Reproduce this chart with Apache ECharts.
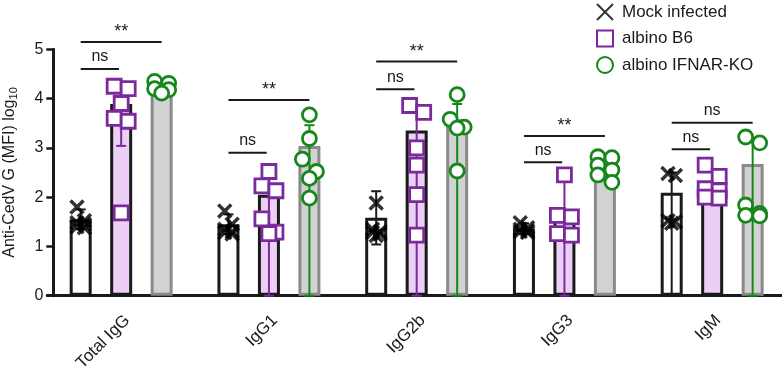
<!DOCTYPE html>
<html>
<head>
<meta charset="utf-8">
<script src="https://cdn.jsdelivr.net/npm/echarts@6/dist/echarts.min.js"></script>
<style>
  html, body { margin: 0; padding: 0; background: #fff; }
  #chart { width: 782px; height: 368px; }
</style>
</head>
<body>
<div id="chart"></div>
<script>
// categories and groups
const categories = ['Total IgG', 'IgG1', 'IgG2b', 'IgG3', 'IgM'];
const groupNames = ['Mock infected', 'albino B6', 'albino IFNAR-KO'];

// bar heights (log10 MFI)
const mockBar = [1.55, 1.45, 1.58, 1.36, 2.09];
const b6Bar = [3.89, 2.05, 3.35, 1.76, 2.25];
const ifnarBar = [4.15, 3.04, 3.58, 2.62, 2.67];

// error bars [low, high]
const mockErr = [[1.35, 1.75], [1.25, 1.65], [1.04, 2.12], [1.25, 1.47], [0, 2.5]];
const b6Err = [[3.04, 4.3], [0, 2.5], [0, 3.85], [0, 2.45], [1.98, 2.55]];
const ifnarErr = [[4.05, 4.3], [0, 3.46], [0, 3.89], [2.42, 2.82], [0, 3.2]];

// individual animals
const mockPts = [
  [1.80, 1.52, 1.45, 1.40, 1.48, 1.38],
  [1.72, 1.45, 1.30, 1.25, 1.35, 1.28],
  [1.88, 1.35, 1.30, 1.25, 1.22, 1.28],
  [1.48, 1.38, 1.32, 1.30, 1.35, 1.28],
  [2.48, 2.44, 1.50, 1.47, 1.52]
];
const b6Pts = [
  [4.25, 4.20, 3.90, 3.60, 3.54, 1.68],
  [2.52, 2.23, 2.13, 1.56, 1.29, 1.26],
  [3.86, 3.72, 3.00, 2.65, 2.05, 1.23],
  [2.45, 1.63, 1.60, 1.26, 1.23],
  [2.65, 2.42, 2.17, 2.13, 2.00, 1.98]
];
const ifnarPts = [
  [4.35, 4.31, 4.20, 4.18, 4.11],
  [3.67, 3.19, 2.77, 2.52, 2.38, 1.98],
  [4.08, 3.58, 3.42, 3.40, 2.53],
  [2.82, 2.80, 2.65, 2.55, 2.45, 2.30],
  [3.22, 3.10, 1.84, 1.67, 1.63, 1.62]
];

// significance brackets: category, compared group (1 = B6, 2 = IFNAR-KO), height, label
const brkCat = [0, 0, 1, 1, 2, 2, 3, 3, 4, 4];
const brkTo = [1, 2, 1, 2, 1, 2, 1, 2, 1, 2];
const brkY = [4.6, 5.15, 2.9, 3.97, 4.19, 4.75, 2.71, 3.24, 2.97, 3.51];
const brkText = ['ns', '**', 'ns', '**', 'ns', '**', 'ns', '**', 'ns', 'ns'];

const font = "'Liberation Sans', Arial, sans-serif";
const ink = '#1a1a1a';
const purple = '#7a2a9c';
const green = '#17871c';
const groupOff = [-0.274, 0, 0.274];
const errColor = [ink, purple, green];

// simple dodge so that overlapping points sit side by side
function spread(vals, cat, g, w) {
  const out = [];
  const order = vals.map((v, i) => i).sort((a, b) => vals[b] - vals[a]);
  let cluster = [];
  const flush = () => {
    const n = cluster.length;
    cluster.forEach((idx, k) => {
      let o = 0;
      if (n >= 2 && !(n % 2 === 1 && k === n - 1)) o = (k % 2 === 0 ? -0.5 : 0.5) * w;
      out.push([cat + groupOff[g] + o, vals[idx]]);
    });
    cluster = [];
  };
  order.forEach(idx => {
    if (cluster.length && vals[cluster[cluster.length - 1]] - vals[idx] > 0.28) flush();
    cluster.push(idx);
  });
  flush();
  return out;
}

function points(pts, g, w) {
  const out = [];
  pts.forEach((vals, c) => out.push(...spread(vals, c, g, w)));
  return out;
}

function errData(err, g) {
  return err.map((e, c) => [c + groupOff[g], e[0], e[1]]);
}

const chart = echarts.init(document.getElementById('chart'));

const errSeries = (err, g) => ({
  name: 'err' + g,
  type: 'custom',
  xAxisIndex: 1,
  z: 3,
  clip: false,
  encode: { x: 0, y: [1, 2] },
  data: errData(err, g),
  renderItem: (params, api) => {
    const x = api.value(0);
    const p1 = api.coord([x, api.value(1)]);
    const p2 = api.coord([x, api.value(2)]);
    const c = 5;
    const st = { stroke: errColor[g], lineWidth: 2 };
    return {
      type: 'group',
      children: [
        { type: 'line', shape: { x1: p1[0], y1: p1[1], x2: p2[0], y2: p2[1] }, style: st },
        { type: 'line', shape: { x1: p1[0] - c, y1: p1[1], x2: p1[0] + c, y2: p1[1] }, style: st },
        { type: 'line', shape: { x1: p2[0] - c, y1: p2[1], x2: p2[0] + c, y2: p2[1] }, style: st }
      ]
    };
  }
});

const option = {
  animation: false,
  backgroundColor: '#fff',
  textStyle: { fontFamily: font, color: ink },
  // grid 0 holds the data, grid 1 only carries the visible y axis
  grid: [
    { left: 47.3, top: 49.3, width: 738.75, height: 246.4, outerBoundsMode: 'none', containLabel: false },
    { left: 53.3, top: 49.3, width: 700, height: 246.4, outerBoundsMode: 'none', containLabel: false }
  ],
  legend: {
    data: groupNames,
    orient: 'vertical',
    left: 591,
    top: -2,
    itemWidth: 16,
    itemHeight: 16,
    itemGap: 8.5,
    textStyle: { fontSize: 17, color: ink, fontFamily: font, padding: [0, 0, 0, 4] }
  },
  xAxis: [
    {
      type: 'category',
      gridIndex: 0,
      data: categories,
      axisLine: { onZero: false, lineStyle: { color: ink, width: 3 } },
      axisTick: { alignWithLabel: true, length: 8, lineStyle: { color: ink, width: 2.5 } },
      axisLabel: { rotate: 45, fontSize: 17, color: ink, margin: 16, verticalAlign: 'top', fontFamily: font },
      splitLine: { show: false }
    },
    { type: 'value', gridIndex: 0, min: -0.5, max: 4.5, show: false },
    { type: 'value', gridIndex: 1, min: 0, max: 1, show: false }
  ],
  yAxis: [
    { type: 'value', gridIndex: 0, min: 0, max: 5, show: false },
    {
      type: 'value',
      gridIndex: 1,
      min: 0,
      max: 5,
      interval: 1,
      name: '{a|Anti-CedV G (MFI) log}{s|10}',
      nameLocation: 'middle',
      nameGap: 34,
      nameTextStyle: {
        rich: {
          a: { fontSize: 16, color: ink, fontFamily: font, lineHeight: 20 },
          s: { fontSize: 11, color: ink, fontFamily: font, lineHeight: 12, verticalAlign: 'bottom' }
        }
      },
      axisLine: { show: true, onZero: false, lineStyle: { color: ink, width: 3 } },
      axisTick: { show: true, length: 7, lineStyle: { color: ink, width: 2.5 } },
      axisLabel: { fontSize: 16, color: ink, margin: 10, fontFamily: font },
      splitLine: { show: false }
    }
  ],
  series: [
    {
      name: 'mockBar', type: 'bar', data: mockBar, barWidth: 22, barGap: '84%', z: 2,
      itemStyle: { color: '#fff', borderColor: ink, borderWidth: 3 }
    },
    {
      name: 'b6Bar', type: 'bar', data: b6Bar, barWidth: 22, barGap: '84%', z: 2,
      itemStyle: { color: '#ebcff5', borderColor: ink, borderWidth: 3 }
    },
    {
      name: 'ifnarBar', type: 'bar', data: ifnarBar, barWidth: 22, barGap: '84%', z: 2,
      itemStyle: { color: '#d2d2d2', borderColor: '#8a8a8a', borderWidth: 3 }
    },
    errSeries(mockErr, 0),
    errSeries(b6Err, 1),
    errSeries(ifnarErr, 2),
    {
      name: groupNames[0], type: 'scatter', xAxisIndex: 1, z: 4,
      symbol: 'path://M0,0L10,10M10,0L0,10', symbolSize: 13,
      itemStyle: { color: 'rgba(0,0,0,0)', borderColor: '#000', borderWidth: 3.5 },
      data: points(mockPts, 0, 0.05)
    },
    {
      name: groupNames[1], type: 'scatter', xAxisIndex: 1, z: 4,
      symbol: 'rect', symbolSize: 14,
      itemStyle: { color: '#fff', borderColor: purple, borderWidth: 2.8, opacity: 1 },
      data: points(b6Pts, 1, 0.095)
    },
    {
      name: groupNames[2], type: 'scatter', xAxisIndex: 1, z: 4,
      symbol: 'circle', symbolSize: 14,
      itemStyle: { color: '#fff', borderColor: green, borderWidth: 2.8, opacity: 1 },
      data: points(ifnarPts, 2, 0.095)
    },
    {
      name: 'brackets',
      type: 'custom',
      xAxisIndex: 1,
      z: 5,
      clip: false,
      encode: { x: [0, 1], y: 2 },
      data: brkCat.map((c, i) => [c + groupOff[0], c + groupOff[brkTo[i]] - (brkTo[i] === 1 ? 0.015 : 0), brkY[i]]),
      renderItem: (params, api) => {
        const a = api.coord([api.value(0), api.value(2)]);
        const b = api.coord([api.value(1), api.value(2)]);
        const star = brkText[params.dataIndex] === '**';
        return {
          type: 'group',
          children: [
            { type: 'line', shape: { x1: a[0], y1: a[1], x2: b[0], y2: b[1] }, style: { stroke: ink, lineWidth: 2 } },
            {
              type: 'text',
              style: {
                x: (a[0] + b[0]) / 2, y: star ? a[1] - 1 : a[1] - 4,
                text: brkText[params.dataIndex],
                fill: ink, font: (star ? '18px ' : '16px ') + font,
                textAlign: 'center', textVerticalAlign: 'bottom'
              }
            }
          ]
        };
      }
    }
  ]
};

chart.setOption(option);
</script>
</body>
</html>
